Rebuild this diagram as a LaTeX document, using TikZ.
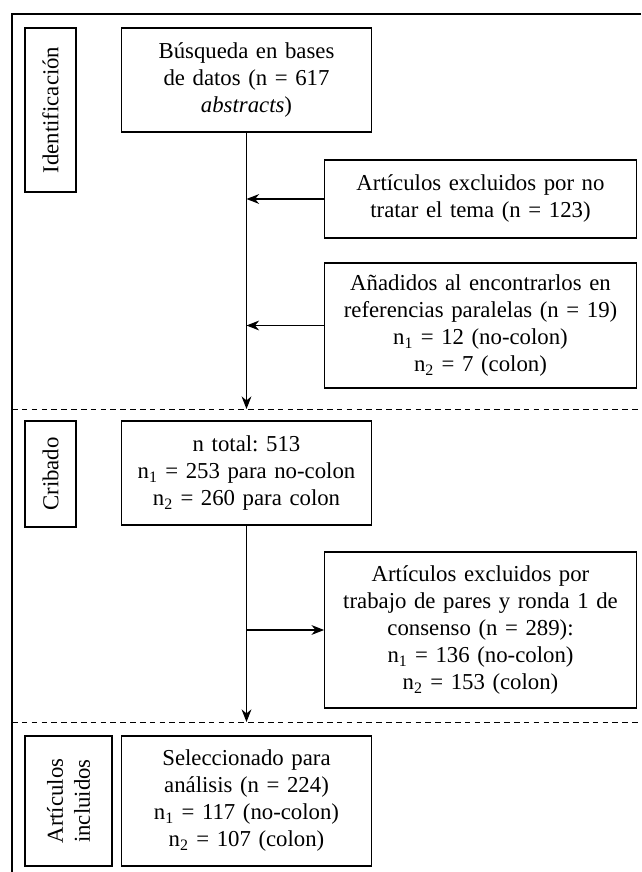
\documentclass[tikz,border=0pt]{standalone}
\usepackage{fontspec}
\setmainfont{Liberation Serif}
\usepackage{tikz}
\usetikzlibrary{arrows.meta}
\frenchspacing

\begin{document}
\begin{tikzpicture}[x=0.025cm,y=-0.025cm,
		every node/.style={font=\fontsize{16.2}{19.2}\selectfont},
		box/.style={draw,thick,align=center,inner sep=2pt,text width=#1},
		stagebox/.style={draw,thick,rotate=90,align=center,inner sep=0pt}]
		\useasboundingbox (0,0) rectangle (641,872);

		% marco y separadores
		\draw[line width=1.1pt] (641,14) -- (12,14) -- (12,872);
		\draw[dash pattern=on 4pt off 3pt] (12,409) -- (641,409);
		\draw[dash pattern=on 4pt off 3pt] (12,722) -- (641,722);

		\node[stagebox,minimum width=4.1cm,minimum height=1.275cm] (ident) at (50.5,110) {Identificación};
		\node[stagebox,minimum width=2.65cm,minimum height=1.275cm] (crib) at (50.5,474) {Cribado};
		\node[stagebox,minimum width=3.25cm,minimum height=2.175cm] (incl) at (68.5,801) {Artículos\\incluidos};

		\node[box=6.1cm,minimum height=2.6cm] (busq) at (246.5,80) {Búsqueda en bases\\de datos (n = 617\\\textit{abstracts})};
		\node[box=7.65cm,minimum height=1.95cm] (excl1) at (480.5,199) {Artículos excluidos por no\\tratar el tema (n = 123)};
		\node[box=7.65cm,minimum height=3.125cm] (anad) at (480.5,325.5) {Añadidos al encontrarlos en\\referencias paralelas (n = 19)\\n\textsubscript{1} = 12 (no-colon)\\n\textsubscript{2} = 7 (colon)};
		\node[box=6.1cm,minimum height=2.6cm] (ntot) at (246.5,473) {n total: 513\\n\textsubscript{1} = 253 para no-colon\\n\textsubscript{2} = 260 para colon};
		\node[box=7.65cm,minimum height=3.9cm] (excl2) at (480.5,630) {Artículos excluidos por\\trabajo de pares y ronda 1 de\\consenso (n = 289):\\n\textsubscript{1} = 136 (no-colon)\\n\textsubscript{2} = 153 (colon)};
		\node[box=6.1cm,minimum height=3.25cm] (sel) at (246.5,801) {Seleccionado para\\análisis (n = 224)\\n\textsubscript{1} = 117 (no-colon)\\n\textsubscript{2} = 107 (colon)};

		\coordinate (e1) at (246.5,199);
		\coordinate (e2) at (246.5,325.5);
		\coordinate (d1) at (246.5,409);
		\coordinate (e3) at (246.5,630);
		\coordinate (d2) at (246.5,722);

		\begin{scope}[>={Stealth[length=9pt,width=7pt]},
					  every edge/.style={draw=black,thick}]
			\path [->] (busq) edge (d1);
			\path [->] (excl1) edge (e1);
			\path [->] (anad) edge (e2);
			\path [->] (ntot) edge (d2);
			\path [->] (e3) edge (excl2);
		\end{scope}
		\end{tikzpicture}
\end{document}
